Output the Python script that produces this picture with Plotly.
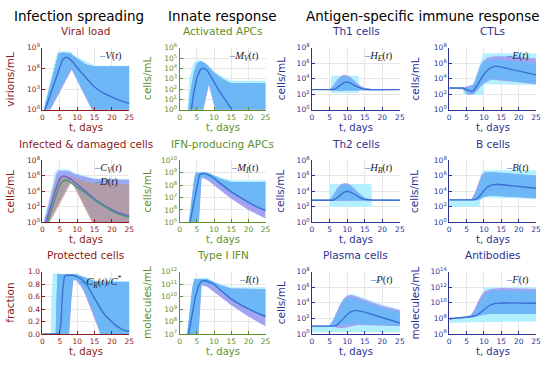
import plotly.graph_objects as go

W, H = 550, 368
T_TICKS = [0, 5, 10, 15, 20, 25]

# ---------------- data: (day, log10 value) pairs ----------------
# Viral load V(t)
V_mean = [(0.75,0),(2,1.8),(3,3.25),(4,4.7),(5,6.1),(5.7,7.2),(6.5,7.6),(7.2,7.6),(8,7.3),(9,6.8),(10,6.1),(11,5.5),(12,4.9),(13,4.35),(14,3.8),(15,3.3),(16,2.9),(18,2.3),(20,1.8),(22,1.4),(25,0.9)]
V_blue_hi = [(0.4,0),(1,1.2),(2,3.1),(3,5.0),(4,7.0),(4.6,8.2),(6,8.3),(8,8.2),(9,7.8),(10,7.4),(11,7.0),(12,6.7),(13,6.5),(14,6.35),(15,6.3),(25,6.3)]
V_blue_lo = [(0,0),(1.7,0),(8.3,6.1),(14.4,0),(25,0)]
V_purple_hi = V_blue_hi
V_purple_lo = [(0,0),(2.3,0),(8.4,5.8),(14.2,0),(25,0)]
V_cyan_hi = [(0.2,0),(4.3,8.45),(8.1,8.45),(9,7.9),(15,6.4),(25,6.4)]
V_cyan_lo = [(0,0),(1.6,0),(8.3,6.2),(14.5,0),(25,0)]

# Activated APCs M_V(t)
MV_mean = [(3.4,0),(4,1.5),(5,3.1),(6,3.9),(6.5,4.0),(7,4.0),(8,3.8),(9,3.3),(10,2.7),(11,2.1),(12,1.6),(13,1.1),(14,0.55),(15.2,0)]
MV_blue_hi = [(2.5,0),(3,1.5),(4,3.5),(5,4.5),(6,4.7),(7,4.6),(8,4.3),(10,3.6),(12,3.1),(14,2.7),(15,2.6),(25,2.6)]
MV_blue_lo = [(0,0),(6.7,0),(8.5,2.6),(10.5,0),(25,0)]
MV_purple_hi = MV_blue_hi
MV_purple_lo = [(0,0),(6.9,0),(8.5,2.4),(10.3,0),(25,0)]
MV_cyan_hi = [(2.3,0),(2.8,3.0),(4,4.5),(5,4.8),(6,4.8),(8,4.4),(10,3.7),(14,2.9),(15,2.8),(25,2.8)]
MV_cyan_lo = [(0,0),(6.6,0),(8.5,2.7),(10.6,0),(25,0)]

# Th1 cells H_E(t)
HE_mean = [(0,2.6),(6,2.6),(7,2.8),(8,3.2),(9,3.5),(10,3.6),(11,3.45),(12,3.15),(13,2.9),(14,2.75),(15,2.65),(17,2.6),(25,2.6)]
HE_blue_hi = [(0,2.65),(5,2.65),(6,3.0),(7,3.6),(8,4.05),(9,4.3),(10,4.3),(11,4.0),(12,3.6),(13,3.2),(14,2.95),(15,2.8),(17,2.65),(25,2.65)]
HE_blue_lo = [(0,2.55),(5,2.55),(7,2.45),(10,2.5),(13,2.5),(16,2.55),(25,2.55)]
HE_purple_hi = [(0,2.65),(5,2.65),(6,3.1),(7,3.8),(8,4.25),(9,4.5),(10,4.45),(11,4.2),(12,3.8),(13,3.35),(14,3.05),(15,2.85),(17,2.65),(25,2.65)]
HE_purple_lo = HE_blue_lo
HE_cyan_hi = [(0,2.65),(5.3,2.65),(5.5,4.4),(13.3,4.4),(13.5,2.65),(25,2.65)]
HE_cyan_lo = [(0,2.55),(5.3,2.55),(5.5,2.2),(13.3,2.2),(13.5,2.55),(25,2.55)]

# CTLs E(t)
E_mean = [(0,2.8),(4,2.8),(5,2.6),(6,2.4),(6.5,2.35),(7,2.5),(8,3.1),(9,3.9),(10,4.6),(11,5.1),(12,5.45),(13,5.6),(14,5.6),(15,5.5),(17,5.3),(20,5.0),(23,4.7),(25,4.5)]
E_blue_hi = [(0,2.85),(4,2.85),(6,2.8),(7,3.2),(8,4.5),(9,5.6),(10,6.2),(11,6.4),(13,6.5),(15,6.45),(20,6.2),(25,6.0)]
E_blue_lo = [(0,2.75),(4,2.7),(5,2.2),(6,2.05),(7,2.2),(8,2.6),(9,3.1),(10,3.5),(11,3.8),(12,3.95),(14,3.95),(17,3.8),(20,3.6),(25,3.35)]
E_purple_hi = [(0,2.85),(4,2.85),(7,3.3),(8,4.7),(9,5.8),(10,6.4),(11,6.7),(13,6.9),(15,6.9),(20,6.8),(25,6.6)]
E_purple_lo = [(0,2.75),(4,2.6),(5,2.0),(6,1.9),(7,2.0),(8,2.4),(9,3.0),(10,3.4),(12,3.9),(25,3.3)]
E_cyan_hi = [(0,2.9),(4,2.9),(7,3.3),(8,4.8),(9,6.0),(9.8,7.3),(25,7.3)]
E_cyan_lo = [(0,2.7),(3.9,2.7),(4.1,1.9),(9.9,1.9),(10.1,3.3),(25,3.2)]

# Infected C_V(t) and damaged D(t) cells
CV_mean = [(1,0),(2,1.5),(3,3.0),(4,4.5),(5,5.6),(5.7,5.95),(6.5,5.95),(8,5.6),(10,4.9),(12,4.1),(15,3.0),(18,2.1),(20,1.6),(22,1.2),(25,0.8)]
D_mean = [(1.5,0),(2.5,1.5),(3.5,3.0),(4.5,4.3),(5.5,5.2),(6.5,5.45),(7.5,5.35),(9,4.9),(10,4.6),(12,3.9),(15,2.85),(18,1.95),(20,1.45),(22,1.05),(25,0.65)]
CV_band_hi = [(0.4,0),(2,2.8),(3,4.6),(4,6.2),(4.6,6.65),(7.5,6.6),(9,6.3),(12,5.9),(15,5.6),(25,5.5)]
CV_band_lo = [(0,0),(1.8,0),(8.3,5.4),(14.5,0),(25,0)]
D_band_hi = [(0.8,0),(2,2.3),(3,3.9),(4,5.3),(5,5.9),(7,6.0),(9,5.7),(12,5.3),(15,5.0),(25,4.9)]
D_band_lo = [(0,0),(2.2,0),(8.4,5.2),(14.2,0),(25,0)]
CD_cyan_hi = [(0.2,0),(2,3.2),(3.5,6.3),(4.3,6.85),(7.5,6.85),(9,6.4),(15,5.65),(25,5.6)]
CD_cyan_lo = [(0,0),(1.7,0),(8.3,5.5),(14.6,0),(25,0)]

# IFN-producing APCs M_I(t)
MI_mean = [(3,5),(4,6.3),(5,7.7),(5.7,8.8),(6.5,8.95),(7.5,8.92),(9,8.75),(10,8.55),(12,8.1),(15,7.45),(18,6.9),(20,6.6),(22,6.3),(25,5.95)]
MI_blue_hi = [(2.7,5),(3.5,6.8),(4.2,8.5),(4.7,9.0),(8,9.0),(10,8.75),(12,8.5),(15,8.25),(25,8.25)]
MI_blue_lo = [(0,5),(5.5,5),(6.3,8.7),(8,8.6),(10,8.35),(15,7.35),(20,6.55),(25,5.85)]
MI_purple_hi = MI_blue_hi
MI_purple_lo = [(0,5),(5.6,5),(6.4,8.6),(8,8.4),(10,8.0),(15,6.9),(20,6.0),(25,5.3)]
MI_cyan_hi = [(2.5,5),(3.3,6.8),(4.1,8.6),(4.5,9.08),(8.2,9.08),(10,8.8),(15,8.38),(25,8.38)]
MI_cyan_lo = [(0,5),(5.4,5),(6.2,8.7),(8,8.6),(10,8.35),(15,7.35),(20,6.55),(25,5.85)]

# Th2 cells H_B(t)
HB_mean = [(0,2.85),(6,2.85),(7,3.1),(8,3.5),(9,3.85),(10,4.0),(11,3.9),(12,3.65),(13,3.35),(14,3.1),(15,2.95),(17,2.87),(25,2.85)]
HB_blue_hi = [(0,2.9),(5,2.9),(6,3.4),(7,4.1),(8,4.6),(9,4.85),(10,4.85),(11,4.6),(12,4.2),(13,3.8),(14,3.4),(15,3.1),(17,2.95),(25,2.9)]
HB_blue_lo = [(0,2.8),(5,2.8),(7,2.75),(12,2.75),(17,2.8),(25,2.8)]
HB_purple_hi = [(0,2.9),(5,2.9),(6,3.5),(7,4.3),(8,4.8),(9,5.05),(10,5.05),(11,4.8),(12,4.4),(13,3.95),(14,3.5),(15,3.2),(17,2.95),(25,2.9)]
HB_purple_lo = HB_blue_lo
HB_cyan_hi = [(0,2.9),(4.9,2.9),(5.1,4.95),(16.9,4.95),(17.1,2.9),(25,2.9)]
HB_cyan_lo = [(0,2.8),(4.9,2.8),(5.1,2.0),(16.9,2.0),(17.1,2.8),(25,2.8)]

# B cells B(t)
B_mean = [(0,2.9),(7,2.9),(8,3.05),(9,3.5),(10,4.1),(11,4.55),(12,4.8),(13,4.9),(14,4.9),(15,4.85),(18,4.7),(21,4.55),(25,4.4)]
B_blue_hi = [(0,2.95),(6.5,2.95),(7.5,3.5),(8.5,4.8),(9.5,5.9),(10.5,6.4),(12,6.5),(15,6.4),(20,6.2),(25,6.0)]
B_blue_lo = [(0,2.85),(8,2.85),(9,3.0),(10,3.3),(12,3.45),(15,3.35),(20,3.2),(25,3.1)]
B_purple_hi = [(0,2.95),(6.3,2.95),(7.3,3.7),(8.3,5.0),(9.3,6.1),(10.3,6.5),(25,6.05)]
B_purple_lo = B_blue_lo
B_cyan_hi = [(0,2.95),(6.6,2.95),(8,4.6),(9.6,6.7),(25,6.7)]
B_cyan_lo = [(0,2.0),(8.7,2.0),(8.9,2.85),(10,3.2),(25,3.0)]

# Protected cells C_R(t)/C* (fraction, linear)
CR_mean = [(0,0),(4.8,0),(5.3,0.15),(5.8,0.7),(6.3,0.92),(7,0.945),(8,0.945),(9,0.94),(10,0.92),(11,0.89),(12,0.84),(13,0.77),(14,0.67),(15,0.57),(16,0.47),(17,0.38),(18,0.3),(19,0.24),(20,0.19),(21,0.14),(22,0.1),(23,0.07),(24,0.05),(25,0.04)]
CR_blue_hi = [(0,0),(3.8,0),(4.0,0.5),(4.3,0.96),(9.7,0.96),(12,0.91),(15,0.85),(18,0.84),(25,0.835)]
CR_blue_lo = [(0,0),(7.6,0),(8.3,0.6),(8.8,0.87),(9.5,0.88),(11,0.8),(12,0.7),(13,0.58),(14,0.44),(15,0.3),(16,0.14),(16.6,0),(25,0)]
CR_purple_hi = CR_blue_hi
CR_purple_lo = [(0,0),(7.7,0),(8.4,0.6),(8.9,0.86),(9.5,0.87),(11,0.77),(12,0.67),(13,0.53),(14,0.38),(15,0.24),(16,0.1),(16.5,0),(25,0)]
CR_cyan_hi = [(0,0),(2.4,0),(2.6,0.6),(3.0,0.97),(9.7,0.97),(12,0.92),(15,0.86),(25,0.85)]
CR_cyan_lo = [(0,0),(7.5,0),(8.2,0.6),(8.7,0.88),(9.5,0.89),(11,0.81),(13,0.6),(15,0.32),(16.7,0),(25,0)]

# Type I IFN I(t)
I_mean = [(2.6,7),(3.5,8.5),(4.5,9.9),(5.5,10.9),(6.3,11.25),(7.5,11.3),(9,11.15),(10,11.0),(12,10.5),(15,9.8),(18,9.3),(20,9.0),(22,8.75),(25,8.4)]
I_blue_hi = [(2.2,7),(3,9.0),(3.7,10.7),(4.3,11.4),(8,11.4),(10,11.15),(12,10.9),(15,10.65),(25,10.6)]
I_blue_lo = [(0,7),(5.4,7),(6.3,11.0),(8,11.0),(10,10.85),(12,10.4),(15,9.7),(20,8.9),(25,8.3)]
I_purple_hi = I_blue_hi
I_purple_lo = [(0,7),(5.5,7),(6.4,10.9),(8,10.8),(10,10.4),(15,9.3),(20,8.4),(25,7.6)]
I_cyan_hi = [(2.0,7),(2.8,9.0),(3.6,10.8),(4.1,11.5),(8.2,11.5),(10,11.2),(15,10.75),(25,10.75)]
I_cyan_lo = [(0,7),(5.3,7),(6.2,11.0),(8,11.0),(10,10.85),(12,10.4),(15,9.7),(20,8.9),(25,8.3)]

# Plasma cells P(t)
P_mean = [(0,1.0),(6,1.0),(7,1.1),(8,1.5),(9,2.0),(10,2.5),(11,2.85),(12,3.0),(13,3.0),(15,2.8),(18,2.4),(20,2.1),(22,1.8),(25,1.4)]
P_blue_hi = [(0,1.05),(5,1.05),(6,1.6),(7,2.5),(8,3.5),(9,4.2),(10,4.6),(11,4.7),(12,4.6),(15,4.1),(18,3.6),(20,3.35),(25,2.8)]
P_blue_lo = [(0,0.95),(6,0.95),(8,1.05),(10,1.2),(12,1.3),(15,1.25),(20,1.15),(25,1.05)]
P_purple_hi = [(0,1.05),(5,1.05),(6,1.8),(7,2.8),(8,3.8),(9,4.5),(10,4.9),(11,5.0),(12,4.9),(15,4.4),(20,3.6),(25,3.05)]
P_purple_lo = [(0,0.95),(6,0.95),(7,0.8),(9,0.75),(11,0.95),(13,1.15),(25,1.0)]
P_cyan_hi = [(0,1.05),(5,1.05),(6,1.9),(7,2.9),(8,3.9),(9,4.6),(10,5.0),(11,5.1),(12,5.05),(15,4.6),(20,3.8),(25,3.15)]
P_cyan_lo = [(0,0.2),(25,0.2)]

# Antibodies F(t)
F_mean = [(0,7.95),(3,8.05),(6,8.2),(7,8.3),(8,8.45),(9,8.75),(10,9.15),(11,9.5),(12,9.75),(13,9.9),(15,10.0),(20,10.0),(25,9.95)]
F_blue_hi = [(0,8.0),(5,8.2),(6.5,8.4),(7.5,9.0),(8.5,9.9),(9.5,10.7),(10.5,11.2),(12,11.5),(15,11.6),(20,11.55),(25,11.5)]
F_blue_lo = [(0,7.9),(5,8.05),(7,8.15),(8,8.25),(9,8.4),(10,8.5),(12,8.6),(15,8.6),(25,8.55)]
F_purple_hi = [(0,8.0),(5,8.2),(6.3,8.5),(7.3,9.2),(8.3,10.2),(9.3,11.0),(10.3,11.5),(12,11.8),(15,11.9),(20,11.85),(25,11.8)]
F_purple_lo = F_blue_lo
F_cyan_hi = [(0,8.05),(5,8.25),(6.5,8.5),(7.5,9.3),(8.5,10.3),(9.5,11.3),(10.3,12.0),(25,12.0)]
F_cyan_lo = [(0,7.45),(25,7.6)]

# ---------------- styling ----------------
DARKRED = "#8b1a1a"
GREEN = "#5e8f28"
NAVY = "#2e3192"
CYAN = "#b2f0ff"
PURPLE = "#a4a2f2"
BLUE = "#6db7f6"
LINE = "#3a6fd2"
CV_COL = "rgba(150,150,240,0.8)"
D_COL = "rgba(195,145,110,0.55)"
CV_LINE = "#6a5fd8"
D_LINE = "#3f9a78"

COLS = [(41, 129), (180, 267), (314, 403), (453, 541)]
ROWS = [(43, 107), (159, 223), (274, 338)]
YLAB_X = [8, 147, 282, 418]

panels = [
    dict(r=0, c=0, title="Viral load", ylab="virions/mL", col=DARKRED, log=True, yr=(0, 9), yt=[0, 3, 6, 9],
         bands=[(V_cyan_hi, V_cyan_lo, CYAN), (V_purple_hi, V_purple_lo, PURPLE), (V_blue_hi, V_blue_lo, BLUE)],
         lines=[(V_mean, LINE)], leg=[("<i>V</i>(<i>t</i>)", LINE)]),
    dict(r=0, c=1, title="Activated APCs", ylab="cells/mL", col=GREEN, log=True, yr=(0, 6), yt=[0, 1, 2, 3, 4, 5, 6],
         bands=[(MV_cyan_hi, MV_cyan_lo, CYAN), (MV_purple_hi, MV_purple_lo, PURPLE), (MV_blue_hi, MV_blue_lo, BLUE)],
         lines=[(MV_mean, LINE)], leg=[("<i>M</i><sub><i>V</i></sub>(<i>t</i>)", LINE)]),
    dict(r=0, c=2, title="Th1 cells", ylab="cells/mL", col=NAVY, log=True, yr=(0, 8), yt=[0, 2, 4, 6, 8],
         bands=[(HE_cyan_hi, HE_cyan_lo, CYAN), (HE_purple_hi, HE_purple_lo, PURPLE), (HE_blue_hi, HE_blue_lo, BLUE)],
         lines=[(HE_mean, LINE)], leg=[("<i>H</i><sub><i>E</i></sub>(<i>t</i>)", LINE)]),
    dict(r=0, c=3, title="CTLs", ylab="cells/mL", col=NAVY, log=True, yr=(0, 8), yt=[0, 2, 4, 6, 8],
         bands=[(E_cyan_hi, E_cyan_lo, CYAN), (E_purple_hi, E_purple_lo, PURPLE), (E_blue_hi, E_blue_lo, BLUE)],
         lines=[(E_mean, LINE)], leg=[("<i>E</i>(<i>t</i>)", LINE)]),
    dict(r=1, c=0, title="Infected &amp; damaged cells", ylab="cells/mL", col=DARKRED, log=True, yr=(0, 8), yt=[0, 2, 4, 6, 8],
         bands=[(CD_cyan_hi, CD_cyan_lo, CYAN), (CV_band_hi, CV_band_lo, CV_COL), (D_band_hi, D_band_lo, D_COL)],
         lines=[(CV_mean, CV_LINE), (D_mean, D_LINE)],
         leg=[("<i>C</i><sub><i>V</i></sub>(<i>t</i>)", CV_LINE), ("<i>D</i>(<i>t</i>)", D_LINE)]),
    dict(r=1, c=1, title="IFN-producing APCs", ylab="cells/mL", col=GREEN, log=True, yr=(5, 10), yt=[5, 6, 7, 8, 9, 10],
         bands=[(MI_cyan_hi, MI_cyan_lo, CYAN), (MI_purple_hi, MI_purple_lo, PURPLE), (MI_blue_hi, MI_blue_lo, BLUE)],
         lines=[(MI_mean, LINE)], leg=[("<i>M</i><sub><i>I</i></sub>(<i>t</i>)", LINE)]),
    dict(r=1, c=2, title="Th2 cells", ylab="cells/mL", col=NAVY, log=True, yr=(0, 8), yt=[0, 2, 4, 6, 8],
         bands=[(HB_cyan_hi, HB_cyan_lo, CYAN), (HB_purple_hi, HB_purple_lo, PURPLE), (HB_blue_hi, HB_blue_lo, BLUE)],
         lines=[(HB_mean, LINE)], leg=[("<i>H</i><sub><i>B</i></sub>(<i>t</i>)", LINE)]),
    dict(r=1, c=3, title="B cells", ylab="cells/mL", col=NAVY, log=True, yr=(0, 8), yt=[0, 2, 4, 6, 8],
         bands=[(B_cyan_hi, B_cyan_lo, CYAN), (B_purple_hi, B_purple_lo, PURPLE), (B_blue_hi, B_blue_lo, BLUE)],
         lines=[(B_mean, LINE)], leg=[("<i>B</i>(<i>t</i>)", LINE)]),
    dict(r=2, c=0, title="Protected cells", ylab="fraction", col=DARKRED, log=False, yr=(0, 1), yt=[0, 0.2, 0.4, 0.6, 0.8, 1.0],
         bands=[(CR_cyan_hi, CR_cyan_lo, CYAN), (CR_purple_hi, CR_purple_lo, PURPLE), (CR_blue_hi, CR_blue_lo, BLUE)],
         lines=[(CR_mean, LINE)], leg=[("<i>C</i><sub><i>R</i></sub>(<i>t</i>)/<i>C</i><sup>*</sup>", LINE)]),
    dict(r=2, c=1, title="Type I IFN", ylab="molecules/mL", col=GREEN, log=True, yr=(7, 12), yt=[7, 8, 9, 10, 11, 12],
         bands=[(I_cyan_hi, I_cyan_lo, CYAN), (I_purple_hi, I_purple_lo, PURPLE), (I_blue_hi, I_blue_lo, BLUE)],
         lines=[(I_mean, LINE)], leg=[("<i>I</i>(<i>t</i>)", LINE)]),
    dict(r=2, c=2, title="Plasma cells", ylab="cells/mL", col=NAVY, log=True, yr=(0, 8), yt=[0, 2, 4, 6, 8],
         bands=[(P_cyan_hi, P_cyan_lo, CYAN), (P_purple_hi, P_purple_lo, PURPLE), (P_blue_hi, P_blue_lo, BLUE)],
         lines=[(P_mean, LINE)], leg=[("<i>P</i>(<i>t</i>)", LINE)]),
    dict(r=2, c=3, title="Antibodies", ylab="molecules/mL", col=NAVY, log=True, yr=(6, 14), yt=[6, 8, 10, 12, 14],
         bands=[(F_cyan_hi, F_cyan_lo, CYAN), (F_purple_hi, F_purple_lo, PURPLE), (F_blue_hi, F_blue_lo, BLUE)],
         lines=[(F_mean, LINE)], leg=[("<i>F</i>(<i>t</i>)", LINE)]),
]

fig = go.Figure()
annotations = []
layout = {}
SANS = "DejaVu Sans"
SERIF = "Liberation Serif"

for i, p in enumerate(panels, start=1):
    sfx = "" if i == 1 else str(i)
    xa, ya = "x" + sfx, "y" + sfx
    conv = (lambda v: 10 ** v) if p["log"] else (lambda v: v)
    for hi, lo, colr in p["bands"]:
        xs = [a for a, _ in hi] + [a for a, _ in reversed(lo)]
        ys = [conv(b) for _, b in hi] + [conv(b) for _, b in reversed(lo)]
        fig.add_trace(go.Scatter(x=xs, y=ys, mode="lines", fill="toself", fillcolor=colr,
                                 line=dict(width=0), hoverinfo="skip", showlegend=False,
                                 xaxis=xa, yaxis=ya))
    for ser, lc in p["lines"]:
        fig.add_trace(go.Scatter(x=[a for a, _ in ser], y=[conv(b) for _, b in ser], mode="lines",
                                 line=dict(color=lc, width=1.4), hoverinfo="skip", showlegend=False,
                                 xaxis=xa, yaxis=ya))
    x0, x1 = COLS[p["c"]]
    y0, y1 = ROWS[p["r"]]
    col = p["col"]
    layout["xaxis" + sfx] = dict(
        domain=[x0 / W, x1 / W], range=[0, 25], anchor=ya, tickvals=T_TICKS,
        ticks="inside", ticklen=3, tickcolor=col, showline=True, linecolor=col, linewidth=1,
        showgrid=True, gridcolor="#e6e6e6", gridwidth=0.6, zeroline=False,
        tickfont=dict(family=SANS, size=7.5, color=col), fixedrange=True)
    if p["log"]:
        tv = [10 ** k for k in p["yt"]]
        tt = ["10<sup>%d</sup>" % k for k in p["yt"]]
        yax = dict(type="log", range=list(p["yr"]), tickvals=tv, ticktext=tt)
    else:
        yax = dict(type="linear", range=list(p["yr"]), tickvals=p["yt"], ticktext=["%.1f" % v for v in p["yt"]])
    yax.update(domain=[1 - y1 / H, 1 - y0 / H], anchor=xa, ticks="inside", ticklen=3, tickcolor=col,
               showline=True, linecolor=col, linewidth=1, showgrid=True, gridcolor="#e6e6e6",
               gridwidth=0.6, zeroline=False, tickfont=dict(family=SANS, size=7.5, color=col),
               fixedrange=True)
    layout["yaxis" + sfx] = yax
    annotations.append(dict(text=p["title"], x=(x0 + x1) / 2 / W, y=1 - (y0 - 17) / H, xref="paper", yref="paper",
                            xanchor="center", yanchor="middle", showarrow=False,
                            font=dict(family=SANS, size=10.5, color=col)))
    annotations.append(dict(text="t, days", x=(x0 + x1) / 2 / W, y=1 - (y1 + 18) / H, xref="paper", yref="paper",
                            xanchor="center", yanchor="middle", showarrow=False,
                            font=dict(family=SANS, size=10, color=col)))
    annotations.append(dict(text=p["ylab"], x=YLAB_X[p["c"]] / W, y=1 - (y0 + y1) / 2 / H, xref="paper", yref="paper",
                            xanchor="center", yanchor="middle", showarrow=False, textangle=-90,
                            font=dict(family=SANS, size=10.5, color=col)))
    txt = "<br>".join('<span style="color:%s">\u2013</span>%s' % (lc, lab) for lab, lc in p["leg"])
    annotations.append(dict(text=txt, x=(x1 - 5) / W, y=1 - (y0 + 0) / H, xref="paper", yref="paper",
                            xanchor="right", yanchor="top", align="left", showarrow=False,
                            font=dict(family=SERIF, size=10.5, color="#1a1a2e")))

for text, cx in [("Infection spreading", 78), ("Innate response", 223), ("Antigen-specific immune response", 426)]:
    annotations.append(dict(text=text, x=cx / W, y=1 - 10 / H, xref="paper", yref="paper",
                            xanchor="center", yanchor="middle", showarrow=False,
                            font=dict(family=SANS, size=13.5, color="black")))

fig.update_layout(width=W, height=H, autosize=False, margin=dict(l=0, r=0, t=0, b=0),
                  paper_bgcolor="white", plot_bgcolor="white", showlegend=False,
                  annotations=annotations, **layout)
fig.write_html("out.html", config={"displayModeBar": False},
               post_script="document.body.style.margin='0px';document.body.style.padding='0px';")
